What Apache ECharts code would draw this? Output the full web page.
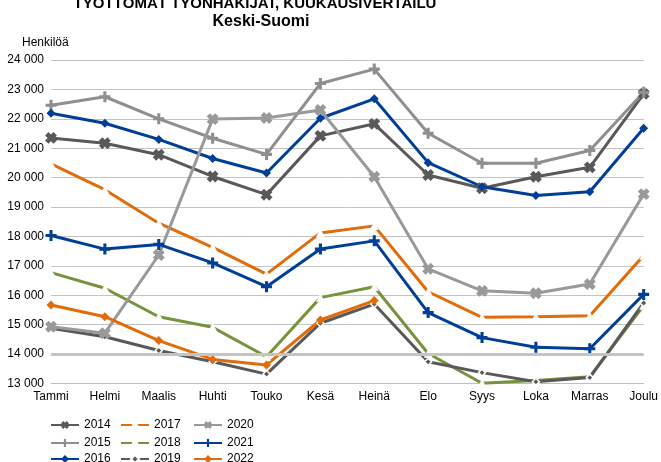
<!DOCTYPE html>
<html>
<head>
<meta charset="utf-8">
<script src="https://cdn.jsdelivr.net/npm/echarts@6/dist/echarts.min.js"></script>
<style>html,body{margin:0;padding:0;background:#fff}#c{width:661px;height:462px}</style>
</head>
<body>
<div id="c"></div>
<script>
const months = ['Tammi','Helmi','Maalis','Huhti','Touko','Kesä','Heinä','Elo','Syys','Loka','Marras','Joulu'];
const yTicks = [13000,14000,15000,16000,17000,18000,19000,20000,21000,22000,23000,24000];
const y2014 = [21350, 21170, 20780, 20040, 19420, 21420, 21830, 20090, 19640, 20030, 20350, 22850];
const y2015 = [22460, 22750, 22000, 21340, 20790, 23200, 23690, 21510, 20490, 20490, 20920, 22900];
const y2016 = [22190, 21850, 21300, 20650, 20160, 22020, 22680, 20510, 19690, 19390, 19520, 21680];
const y2017 = [20470, 19590, 18450, 17630, 16720, 18120, 18360, 16120, 15250, 15270, 15300, 17350];
const y2018 = [16770, 16240, 15270, 14910, 13910, 15920, 16290, 14020, 13010, 13100, 13230, 15650];
const y2019 = [14880, 14590, 14120, 13740, 13320, 15050, 15700, 13740, 13370, 13060, 13200, 15740];
const y2020 = [14930, 14710, 17370, 21990, 22030, 22300, 20030, 16900, 16150, 16070, 16380, 19440];
const y2021 = [18030, 17570, 17730, 17100, 16290, 17570, 17850, 15410, 14560, 14230, 14180, 16030];
const y2022 = [15670, 15270, 14460, 13820, 13630, 15160, 15820, null, null, null, null, null];

const FONT = "'Liberation Sans', Arial, sans-serif";
const plusThick = 'path://M3,0H7V3H10V7H7V10H3V7H0V3H3Z';
const plusThin = 'path://M3.6,0H6.4V3.6H10V6.4H6.4V10H3.6V6.4H0V3.6H3.6Z';
const DG = '#595959', LG = '#8f8f8f', BL = '#003f97', OR = '#e26b0a', GR = '#77933c';

function line(name, data, color, symbol, size, extra) {
  return Object.assign({
    name, type: 'line', data, symbol, symbolSize: size,
    lineStyle: { color, width: 3 },
    itemStyle: { color },
    connectNulls: false
  }, extra || {});
}

const series = [
  line('2014', y2014, DG, plusThick, 12, { symbolRotate: 45 }),
  line('2015', y2015, LG, plusThin, 11),
  line('2016', y2016, BL, 'diamond', 9),
  line('2017', y2017, OR, 'triangle', 8, { itemStyle: { color: '#fff', borderColor: '#fff', borderWidth: 0.5 } }),
  line('2018', y2018, GR, 'triangle', 8, { itemStyle: { color: '#fff', borderColor: '#fff', borderWidth: 0.5 } }),
  line('2019', y2019, DG, 'diamond', 7, { itemStyle: { color: DG, borderColor: '#fff', borderWidth: 1.5 } }),
  line('2020', y2020, '#999999', plusThick, 12, { symbolRotate: 45 }),
  line('2021', y2021, BL, plusThin, 11),
  line('2022', y2022, OR, 'diamond', 9)
];
series[0].markLine = {
  silent: true, symbol: 'none', label: { show: false },
  lineStyle: { color: '#c4c4c4', width: 3, type: 'solid' },
  data: [{ yAxis: 14000 }]
};

const legendCols = [45, 115, 188];
const legendRows = [414, 432, 448];
const legendNames = [['2014', '2015', '2016'], ['2017', '2018', '2019'], ['2020', '2021', '2022']];
const legends = [];
legendNames.forEach((col, ci) => col.forEach((nm, ri) => legends.push({
  orient: 'horizontal', left: legendCols[ci], top: legendRows[ri], itemWidth: 28, itemHeight: 10,
  textStyle: { fontFamily: FONT, fontSize: 12, color: '#000' },
  data: [nm]
})));

const chart = echarts.init(document.getElementById('c'), null, { renderer: 'canvas' });
chart.setOption({
  animation: false,
  backgroundColor: '#fff',
  grid: { left: 51, right: 14, top: 60, bottom: 78.5 },
  legend: legends,
  xAxis: {
    type: 'category', data: months, boundaryGap: false,
    axisLine: { lineStyle: { color: '#bfbfbf', width: 1 } },
    axisTick: { show: false },
    axisLabel: { fontFamily: FONT, fontSize: 12, color: '#000', margin: 7, interval: 0 }
  },
  yAxis: {
    type: 'value', min: 13000, max: 24000, interval: 1000,
    axisLine: { show: false }, axisTick: { show: false },
    splitLine: { lineStyle: { color: '#c4c4c4', width: 1 } },
    axisLabel: {
      fontFamily: FONT, fontSize: 12, color: '#000', margin: 7,
      formatter: v => yTicks.includes(v) ? String(v).replace(/(\d+)(\d{3})$/, '$1 $2') : ''
    }
  },
  graphic: [
    { type: 'text', x: 255, y: 11, style: { text: 'TYÖTTÖMÄT TYÖNHAKIJAT, KUUKAUSIVERTAILU', font: "bold 15px 'Liberation Sans Narrow', 'Liberation Sans', Arial", fill: '#000', textAlign: 'center', textVerticalAlign: 'bottom' } },
    { type: 'text', x: 261, y: 30, style: { text: 'Keski-Suomi', font: "bold 16px 'Liberation Sans Narrow', 'Liberation Sans', Arial", fill: '#000', textAlign: 'center', textVerticalAlign: 'bottom' } },
    { type: 'text', x: 22, y: 37, style: { text: 'Henkilöä', font: "12px " + FONT, fill: '#000' } }
  ],
  series
});
</script>
</body>
</html>
